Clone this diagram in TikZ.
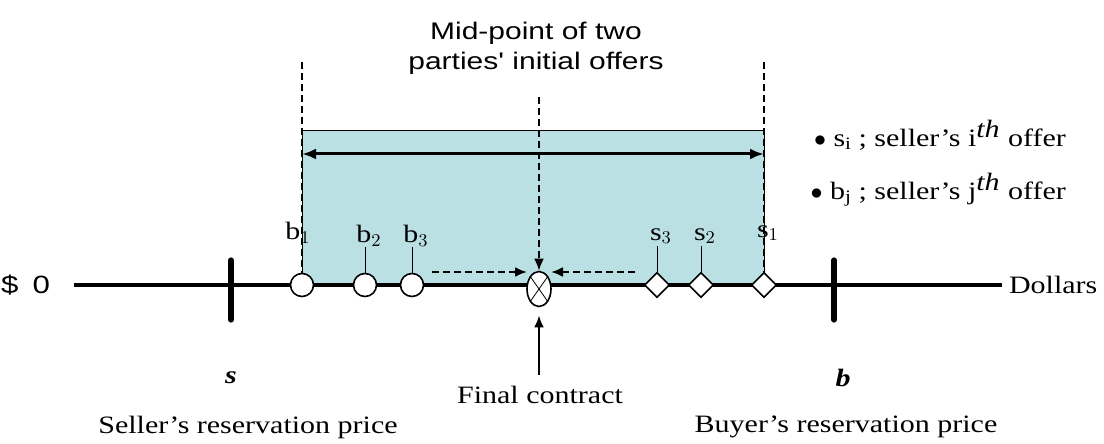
\documentclass[tikz,border=0pt]{standalone}
\usepackage{fontspec}
\setmainfont{Liberation Serif}[FakeStretch=1.2]
\newfontfamily\gulim{Liberation Sans}[FakeStretch=1.25]
\usetikzlibrary{positioning, arrows.meta, calc, shapes.geometric}
\definecolor{zopa}{RGB}{186,224,228}
\begin{document}
\begin{tikzpicture}[x=0.5pt, y=-0.5pt,
  every node/.style={font=\fontsize{12.5}{15}\selectfont},
  axis/.style={line width=1.6pt},
  tick/.style={line width=2.6pt, line cap=round},
  bid/.style={draw, circle, fill=white, minimum size=11.5pt, inner sep=0pt, thick},
  ask/.style={draw, diamond, fill=white, minimum size=12.5pt, inner sep=0pt, thick},
  stem/.style={thin},
  guide/.style={dashed, dash pattern=on 3.5pt off 2pt, line width=1.1pt},
  mv/.style={guide, -{Latex[length=6pt, width=5pt]}},
  arr/.style={line width=1.4pt, -{Latex[length=6pt, width=5pt]}},
  lbl/.style={inner sep=0pt},
]
\useasboundingbox (0,0) rectangle (1104,444);

% --- axis ---
\node[font=\gulim\fontsize{12.5}{15}\selectfont, anchor=east] (zero) at (57,285) {\$\hspace{7pt}0};
\node[anchor=west] (dol) at (1002,285) {Dollars};
\coordinate (a0) at (74,285);
\draw[axis] (a0) -- (dol.west);

% --- ZOPA box ---
\coordinate (zl) at (302,130);
\coordinate (zr) at (764,285);
\fill[zopa] (zl) rectangle (zr);
\draw[thin] (302,285) |- (zl) -| (764,285);
\draw[axis] (302,285) -- (764,285);

% --- reservation prices ---
\coordinate (st) at (231,260);
\coordinate (sb) at (231,320);
\coordinate (bt) at (834,260);
\coordinate (bb) at (834,320);
\draw[tick] (st) -- (sb);
\draw[tick] (bt) -- (bb);
\node[font=\bfseries\itshape\fontsize{12.5}{15}\selectfont] (s) at (231,378) {s};
\node[font=\bfseries\itshape\fontsize{12.5}{15}\selectfont] (b) at (843,378) {b};
\node (sres) at (248,427) {Seller's reservation price};
\node (bres) at (846,427) {Buyer's reservation price};

% --- offers ---
\node[bid] (b1) at (302,285) {};
\node[bid] (b2) at (365,285) {};
\node[bid] (b3) at (412,285) {};
\node[ask] (s3) at (657,285) {};
\node[ask] (s2) at (701,285) {};
\node[ask] (s1) at (764,285) {};

\node[lbl] (lb1) at (298,233) {b$_{1}$};
\node[lbl] (lb2) at (369,236) {b$_{2}$};
\node[lbl] (lb3) at (416,236) {b$_{3}$};
\node[lbl] (ls3) at (661,236) {s$_{3}$};
\node[lbl] (ls2) at (705,236) {s$_{2}$};
\node[lbl] (ls1) at (768,233) {s$_{1}$};
\foreach \p in {b2,b3,s3,s2} { \draw[stem] (\p.north) -- ++(0,-26); }

% --- mid-point and final contract ---
\node[font=\gulim\fontsize{12}{15}\selectfont, align=center] (mid) at (536,48) {Mid-point of two\\parties' initial offers};
\node[draw, ellipse, fill=white, thick, minimum width=12pt, minimum height=17.5pt, inner sep=0pt] (fc) at (539,289) {};
\draw[thin] (fc.55) -- (fc.235);
\draw[thin] (fc.125) -- (fc.305);
\node (fin) at (540,395) {Final contract};
\draw[arr] ([yshift=2pt]fin.north -| fc.south) -- ([yshift=-4pt]fc.south);
\draw[mv] ([yshift=-8pt]mid.south -| fc.north) -- (fc.north);
\draw[mv] ($(b3.center)+(20,-13)$) -- ($(fc.center)+(-12,-17)$);
\draw[mv] ($(s3.center)+(-22,-13)$) -- ($(fc.center)+(12,-17)$);

% --- range of initial offers ---
\draw[guide] (302,62) -- (b1.north);
\draw[guide] (764,62) -- (s1.north);
\draw[line width=1.5pt, {Latex[length=7pt, width=5.5pt]}-{Latex[length=7pt, width=5.5pt]}] (302,154) -- (764,154);

% --- legend ---
\node[anchor=east] (leg1) at (1073,135) {$\bullet$ s$_{\mathrm{i}}$ ; seller's i$^{\textit{th}}$ offer};
\node[anchor=east] (leg2) at (1073,190) {$\bullet$ b$_{\mathrm{j}}$ ; seller's j$^{\textit{th}}$ offer};
\end{tikzpicture}
\end{document}
